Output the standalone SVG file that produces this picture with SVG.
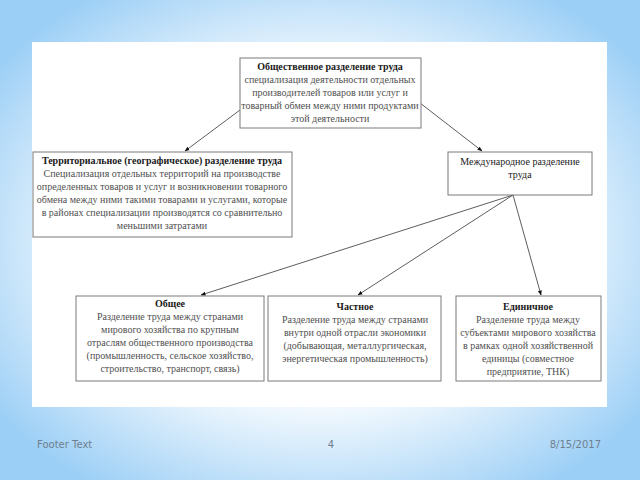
<svg xmlns="http://www.w3.org/2000/svg" width="640" height="480" viewBox="0 0 640 480">
<defs>
<radialGradient id="bg" cx="50%" cy="50%" r="62%" fx="50%" fy="50%">
<stop offset="0" stop-color="#ffffff"/>
<stop offset="0.5" stop-color="#ffffff"/>
<stop offset="1" stop-color="#9ccff6"/>
</radialGradient>
<marker id="ah" viewBox="0 0 10 10" refX="9" refY="5" markerWidth="5" markerHeight="5" orient="auto" markerUnits="userSpaceOnUse">
<path d="M0,1 L10,5 L0,9 z" fill="#111"/>
</marker>
<style>
.box{fill:#fff;stroke:#7a7a7a;stroke-width:1}
.t{font-family:"Liberation Serif","Times New Roman",serif;font-size:10px;fill:#505050;text-anchor:middle}
.h{font-family:"Liberation Serif","Times New Roman",serif;font-size:10px;fill:#1a1a1a;font-weight:bold;text-anchor:middle}
.hn{font-family:"Liberation Serif","Times New Roman",serif;font-size:10px;fill:#1a1a1a;text-anchor:middle}
.c{stroke:#333;stroke-width:0.8;fill:none;marker-end:url(#ah)}
.f{font-family:"DejaVu Sans","Liberation Sans",sans-serif;font-size:10px;fill:#6f7f8f}
</style>
</defs>
<rect x="0" y="0" width="640" height="480" fill="url(#bg)"/>
<rect x="32" y="42" width="575" height="365" fill="#ffffff"/>

<g id="connectors">
<line class="c" x1="240" y1="110" x2="185" y2="151"/>
<line class="c" x1="420" y1="103" x2="482" y2="151"/>
<line class="c" x1="513" y1="195" x2="201" y2="295"/>
<line class="c" x1="513" y1="195" x2="358" y2="295"/>
<line class="c" x1="513" y1="195" x2="541" y2="295"/>
</g>

<g id="node-social">
<rect class="box" x="240" y="58" width="181" height="70"/>
<text class="h" x="330" y="70">Общественное разделение труда</text>
<text class="t" x="330" y="83">специализация деятельности отдельных</text>
<text class="t" x="330" y="96">производителей товаров или услуг и</text>
<text class="t" x="330" y="109">товарный обмен между ними продуктами</text>
<text class="t" x="330" y="122">этой деятельности</text>
</g>

<g id="node-territorial">
<rect class="box" x="33" y="152" width="259" height="85"/>
<text class="h" x="162" y="164">Территориальное (географическое) разделение труда</text>
<text class="t" x="162" y="177">Специализация отдельных территорий на производстве</text>
<text class="t" x="162" y="190">определенных товаров и услуг и возникновении товарного</text>
<text class="t" x="162" y="203">обмена между ними такими товарами и услугами, которые</text>
<text class="t" x="162" y="216">в районах специализации производятся со сравнительно</text>
<text class="t" x="162" y="229">меньшими затратами</text>
</g>

<g id="node-international">
<rect class="box" x="448" y="152" width="144" height="43"/>
<text class="hn" x="520" y="165">Международное разделение</text>
<text class="hn" x="520" y="178">труда</text>
</g>

<g id="node-general">
<rect class="box" x="76" y="296" width="188" height="85"/>
<text class="h" x="170" y="307">Общее</text>
<text class="t" x="170" y="320">Разделение труда между странами</text>
<text class="t" x="170" y="333">мирового хозяйства по крупным</text>
<text class="t" x="170" y="346">отраслям общественного производства</text>
<text class="t" x="170" y="359">(промышленность, сельское хозяйство,</text>
<text class="t" x="170" y="372">строительство, транспорт, связь)</text>
</g>

<g id="node-partial">
<rect class="box" x="268" y="296" width="173" height="85"/>
<text class="h" x="355" y="310">Частное</text>
<text class="t" x="355" y="323">Разделение труда между странами</text>
<text class="t" x="355" y="336">внутри одной отрасли экономики</text>
<text class="t" x="355" y="349">(добывающая, металлургическая,</text>
<text class="t" x="355" y="362">энергетическая промышленность)</text>
</g>

<g id="node-single">
<rect class="box" x="456" y="296" width="145" height="85"/>
<text class="h" x="528" y="310">Единичное</text>
<text class="t" x="528" y="323">Разделение труда между</text>
<text class="t" x="528" y="336">субъектами мирового хозяйства</text>
<text class="t" x="528" y="349">в рамках одной хозяйственной</text>
<text class="t" x="528" y="362">единицы (совместное</text>
<text class="t" x="528" y="375">предприятие, ТНК)</text>
</g>

<text class="f" x="37" y="448">Footer Text</text>
<text class="f" x="331" y="448" text-anchor="middle">4</text>
<text class="f" x="601" y="448" text-anchor="end">8/15/2017</text>
</svg>
